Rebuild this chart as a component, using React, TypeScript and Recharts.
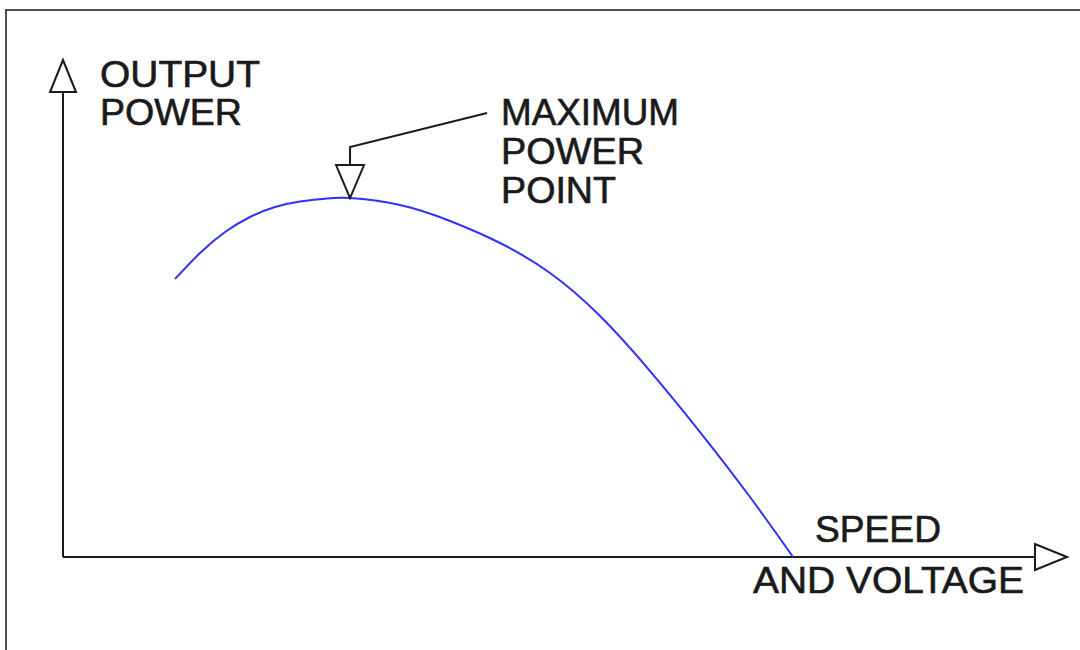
import React from "react";
import { LineChart, Line, XAxis, YAxis, ReferenceLine, ReferenceDot } from "recharts";

// Curve: speed/voltage (x) vs output power (y), in 0–100 units
const speed = [11.16, 13.65, 16.14, 18.63, 21.12, 23.61, 26.1, 28.59, 33.57, 38.55, 43.53, 48.51, 53.49, 58.47, 63.45, 68.43, 72.71];
const power = [55.94, 61.17, 65.39, 68.41, 70.42, 71.53, 72.09, 72.23, 70.82, 67.61, 63.18, 57.14, 48.49, 37.42, 25.15, 12.07, 0];

const yAxisLabelLines = ["OUTPUT", "POWER"];
const xAxisLabelLines = ["SPEED", "AND VOLTAGE"];
const peakLabelLines = ["MAXIMUM", "POWER", "POINT"];

const axisMin = 0;
const axisMax = 100;

const data = speed.map((s, i) => ({ x: s, y: power[i] }));
const peakIndex = power.indexOf(Math.max(...power));
const peak = data[peakIndex];

const FONT = "'Liberation Sans', Arial, Helvetica, sans-serif";
const INK = "#1a1a1a";

const textProps = {
  fontFamily: FONT,
  fontSize: 36,
  fill: INK,
  stroke: INK,
  strokeWidth: 0.6,
  lengthAdjust: "spacingAndGlyphs" as const,
};

const YArrow = (props: any) => {
  const { cx, cy } = props;
  const widths = [160, 142];
  const baselines = [27, 65];
  return (
    <g>
      <polygon
        points={`${cx},${cy} ${cx - 13},${cy + 32} ${cx + 13},${cy + 32}`}
        fill="#fff"
        stroke={INK}
        strokeWidth={2}
      />
      {yAxisLabelLines.map((t, i) => (
        <text key={t} x={cx + 37} y={cy + baselines[i]} textLength={widths[i]} {...textProps}>
          {t}
        </text>
      ))}
    </g>
  );
};

const XArrow = (props: any) => {
  const { cx, cy } = props;
  const widths = [126, 271];
  const xs = [-252, -314];
  const baselines = [-15, 36];
  return (
    <g>
      <polygon
        points={`${cx},${cy} ${cx - 32},${cy - 13} ${cx - 32},${cy + 13}`}
        fill="#fff"
        stroke={INK}
        strokeWidth={2}
      />
      {xAxisLabelLines.map((t, i) => (
        <text key={t} x={cx + xs[i]} y={cy + baselines[i]} textLength={widths[i]} {...textProps}>
          {t}
        </text>
      ))}
    </g>
  );
};

const PeakMarker = (props: any) => {
  const { cx, cy } = props;
  const widths = [178, 143, 115];
  const baselines = [-73, -34, 5];
  return (
    <g>
      <polygon
        points={`${cx},${cy} ${cx - 14},${cy - 33} ${cx + 14},${cy - 33}`}
        fill="#fff"
        stroke={INK}
        strokeWidth={2}
      />
      <polyline
        points={`${cx},${cy - 33} ${cx},${cy - 51} ${cx + 137},${cy - 85}`}
        fill="none"
        stroke={INK}
        strokeWidth={2}
      />
      {peakLabelLines.map((t, i) => (
        <text key={t + i} x={cx + 151} y={cy + baselines[i]} textLength={widths[i]} {...textProps}>
          {t}
        </text>
      ))}
    </g>
  );
};

export default function App() {
  return (
    <div style={{ position: "absolute", left: 0, top: 0, width: 1080, height: 650, overflow: "hidden", background: "#fff" }}>
      <div
        style={{
          position: "absolute",
          left: 5,
          top: 9,
          width: 2000,
          height: 2000,
          border: "2px solid #505050",
          boxSizing: "border-box",
        }}
      />
      <div style={{ position: "absolute", left: 0, top: 0 }}>
        <LineChart width={1080} height={650} data={data} margin={{ top: 60, right: 13, bottom: 93, left: 63 }}>
          <XAxis type="number" dataKey="x" domain={[axisMin, axisMax]} hide />
          <YAxis type="number" domain={[axisMin, axisMax]} hide />
          <ReferenceLine
            segment={[{ x: axisMin, y: axisMin }, { x: axisMin, y: axisMax }]}
            stroke={INK}
            strokeWidth={2}
            ifOverflow="visible"
          />
          <ReferenceLine
            segment={[{ x: axisMin, y: axisMin }, { x: axisMax, y: axisMin }]}
            stroke={INK}
            strokeWidth={2}
            ifOverflow="visible"
          />
          <Line
            type="natural"
            dataKey="y"
            stroke="#3030ff"
            strokeWidth={2}
            dot={false}
            isAnimationActive={false}
          />
          <ReferenceDot x={axisMin} y={axisMax} r={0} ifOverflow="visible" shape={YArrow} />
          <ReferenceDot x={axisMax} y={axisMin} r={0} ifOverflow="visible" shape={XArrow} />
          <ReferenceDot x={peak.x} y={peak.y} r={0} ifOverflow="visible" shape={PeakMarker} />
        </LineChart>
      </div>
    </div>
  );
}
